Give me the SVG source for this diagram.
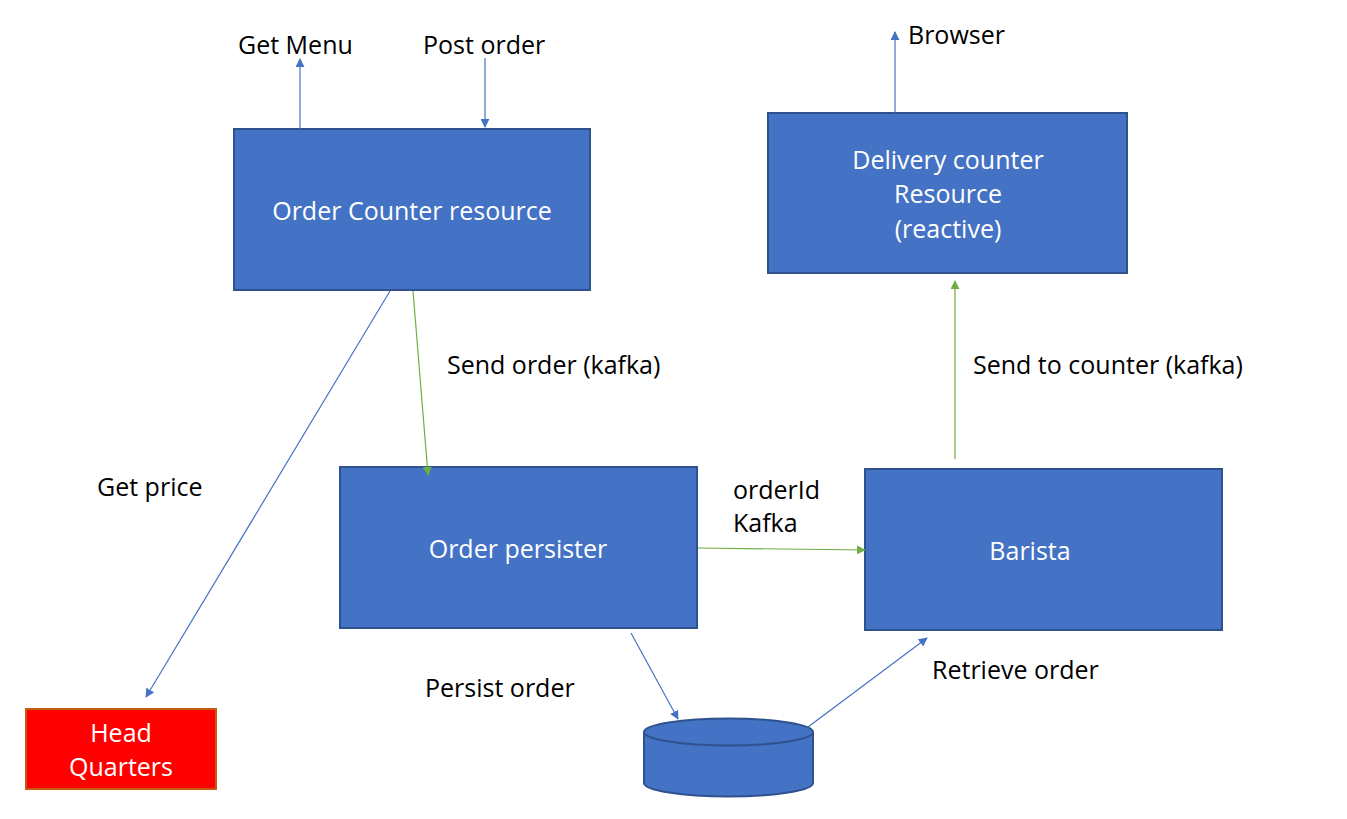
<svg xmlns="http://www.w3.org/2000/svg" width="1347" height="819" viewBox="0 0 1347 819">
<style>
.box{fill:#4472C4;stroke:#2F528F;stroke-width:2}
.hq{fill:#FF0000;stroke:#C55A11;stroke-width:2}
.wt{fill:#FFFFFF;font-family:"Open Sans","Noto Sans",sans-serif;font-size:25px;text-anchor:middle}
.lb{fill:#000000;font-family:"Open Sans","Noto Sans",sans-serif;font-size:25px}
.cb{stroke:#4472C4;stroke-width:1.2;fill:none}
.cg{stroke:#70AD47;stroke-width:1.2;fill:none}
</style>
<defs>
<marker id="ab" viewBox="0 0 10 10" refX="9" refY="5" markerWidth="9" markerHeight="9" markerUnits="userSpaceOnUse" orient="auto"><path d="M0,0L10,5L0,10z" fill="#4472C4"/></marker>
<marker id="ag" viewBox="0 0 10 10" refX="9" refY="5" markerWidth="9" markerHeight="9" markerUnits="userSpaceOnUse" orient="auto"><path d="M0,0L10,5L0,10z" fill="#70AD47"/></marker>
</defs>
<rect width="1347" height="819" fill="#FFFFFF"/>
<g id="order-counter">
<rect class="box" x="234" y="129" width="356" height="161"/>
<text class="wt" x="412" y="220">Order Counter resource</text>
</g>
<g id="delivery-counter">
<rect class="box" x="768" y="113" width="359" height="160"/>
<text class="wt" x="948" y="169">Delivery counter</text>
<text class="wt" x="948" y="203">Resource</text>
<text class="wt" x="948" y="238">(reactive)</text>
</g>
<g id="order-persister">
<rect class="box" x="340" y="467" width="357" height="161"/>
<text class="wt" x="518" y="558">Order persister</text>
</g>
<g id="barista">
<rect class="box" x="865" y="469" width="357" height="161"/>
<text class="wt" x="1030" y="560">Barista</text>
</g>
<g id="head-quarters">
<rect class="hq" x="26" y="709" width="190" height="80"/>
<text class="wt" x="121" y="742">Head</text>
<text class="wt" x="121" y="776">Quarters</text>
</g>
<g id="database">
<path class="box" d="M644,732 L644,783 A84.5,13.5 0 0 0 813,783 L813,732"/>
<ellipse class="box" cx="728.5" cy="732" rx="84.5" ry="13.5"/>
</g>
<g id="connectors">
<line class="cb" x1="300" y1="129" x2="300" y2="59" marker-end="url(#ab)"/>
<line class="cb" x1="485" y1="58" x2="485" y2="127" marker-end="url(#ab)"/>
<line class="cb" x1="895" y1="113" x2="895" y2="32" marker-end="url(#ab)"/>
<line class="cg" x1="413" y1="291" x2="428" y2="475" marker-end="url(#ag)"/>
<line class="cg" x1="698" y1="548" x2="865" y2="550" marker-end="url(#ag)"/>
<line class="cg" x1="955" y1="459" x2="955" y2="281" marker-end="url(#ag)"/>
<line class="cb" x1="390" y1="291" x2="146" y2="697" marker-end="url(#ab)"/>
<line class="cb" x1="631" y1="633" x2="678" y2="719" marker-end="url(#ab)"/>
<line class="cb" x1="808" y1="727" x2="927" y2="638" marker-end="url(#ab)"/>
</g>
<g id="labels">
<text class="lb" x="238" y="54">Get Menu</text>
<text class="lb" x="423" y="54">Post order</text>
<text class="lb" x="908" y="44">Browser</text>
<text class="lb" x="447" y="374">Send order (kafka)</text>
<text class="lb" x="973" y="374">Send to counter (kafka)</text>
<text class="lb" x="97" y="496">Get price</text>
<text class="lb" x="733" y="499">orderId</text>
<text class="lb" x="733" y="532">Kafka</text>
<text class="lb" x="425" y="697">Persist order</text>
<text class="lb" x="932" y="679">Retrieve order</text>
</g>
</svg>
